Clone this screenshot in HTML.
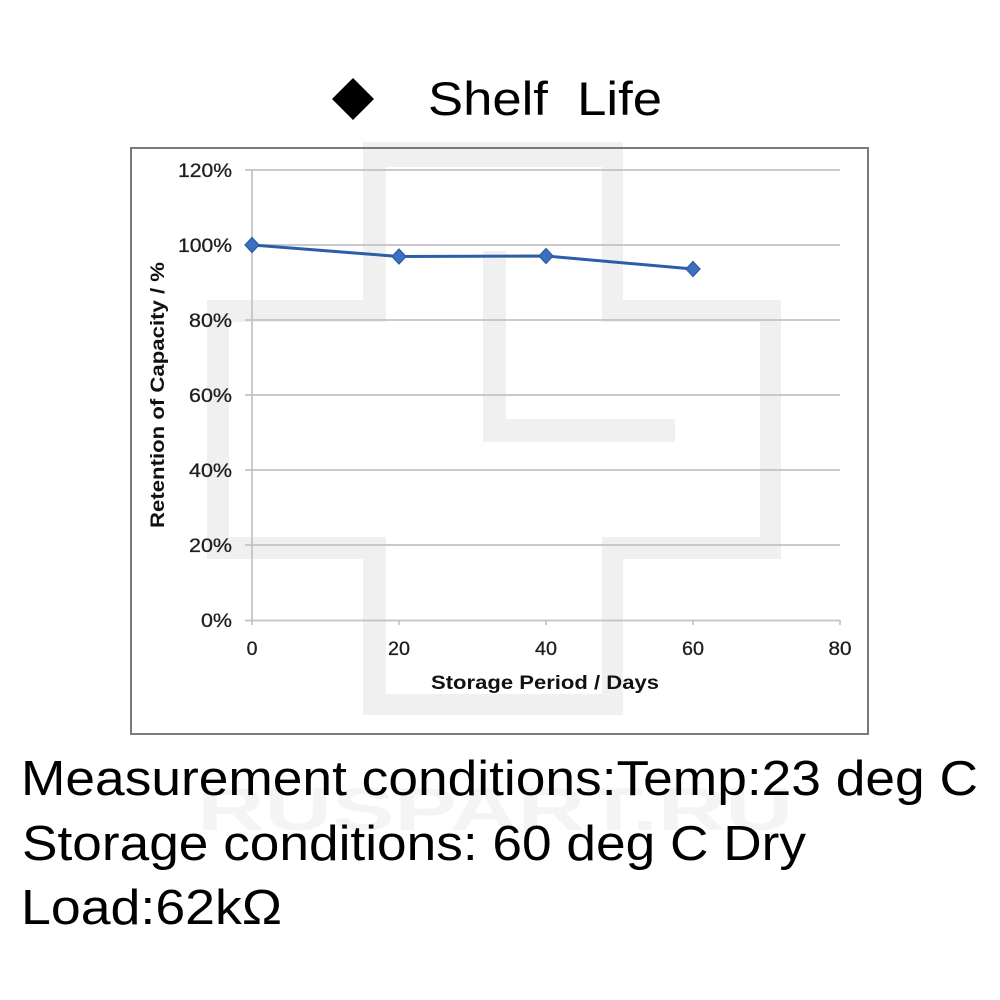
<!DOCTYPE html>
<html>
<head>
<meta charset="utf-8">
<style>
  html, body { margin: 0; padding: 0; background: #ffffff; }
  body { width: 1000px; height: 1000px; overflow: hidden; }
  svg { display: block; }
</style>
</head>
<body>
<svg width="1000" height="1000" viewBox="0 0 1000 1000" xmlns="http://www.w3.org/2000/svg">
  <rect x="0" y="0" width="1000" height="1000" fill="#ffffff"/>

  <!-- Title -->
  <polygon points="353,78 374,99 353,120 332,99" fill="#000000"/>
  <text x="428" y="115" font-family="Liberation Sans, Arial, sans-serif" font-size="47.5" fill="#000" textLength="234" lengthAdjust="spacingAndGlyphs" xml:space="preserve">Shelf  Life</text>

  <!-- Chart background -->
  <rect x="131" y="148" width="737" height="586" fill="#ffffff"/>

  <!-- Watermark (light gray cross outline) -->
  <g fill="#f0f0f0">
    <!-- top arm -->
    <rect x="363" y="142" width="260" height="25"/>
    <rect x="363" y="142" width="23" height="180"/>
    <rect x="602" y="142" width="21" height="180"/>
    <!-- left arm -->
    <rect x="207" y="300" width="179" height="22"/>
    <rect x="207" y="300" width="22" height="259"/>
    <rect x="207" y="537" width="179" height="22"/>
    <!-- bottom arm -->
    <rect x="363" y="537" width="23" height="178"/>
    <rect x="602" y="537" width="21" height="178"/>
    <rect x="363" y="694" width="260" height="21"/>
    <!-- right arm -->
    <rect x="602" y="300" width="179" height="22"/>
    <rect x="760" y="300" width="21" height="259"/>
    <rect x="602" y="537" width="179" height="22"/>
    <!-- inner L -->
    <rect x="483" y="251" width="23" height="191"/>
    <rect x="483" y="419" width="192" height="23"/>
  </g>

  <!-- Chart frame border (on top of watermark) -->
  <rect x="131" y="148" width="737" height="586" fill="none" stroke="#7a7a7a" stroke-width="2"/>

  <!-- Gridlines -->
  <g stroke="#c2c2c2" stroke-width="1.7">
    <line x1="245" y1="170" x2="840" y2="170"/>
    <line x1="245" y1="245" x2="840" y2="245"/>
    <line x1="245" y1="320" x2="840" y2="320"/>
    <line x1="245" y1="395" x2="840" y2="395"/>
    <line x1="245" y1="470" x2="840" y2="470"/>
    <line x1="245" y1="545" x2="840" y2="545"/>
    <line x1="245" y1="620.5" x2="840" y2="620.5"/>
    <!-- y axis -->
    <line x1="252" y1="170" x2="252" y2="625"/>
    <!-- x ticks -->
    <line x1="399" y1="620" x2="399" y2="625"/>
    <line x1="546" y1="620" x2="546" y2="625"/>
    <line x1="693" y1="620" x2="693" y2="625"/>
    <line x1="840" y1="620" x2="840" y2="625"/>
  </g>

  <!-- Y tick labels -->
  <g font-family="Liberation Sans, Arial, sans-serif" font-size="19.5" fill="#1e1e1e" text-anchor="end" stroke="#1e1e1e" stroke-width="0.3">
    <text x="232" y="177" textLength="54" lengthAdjust="spacingAndGlyphs">120%</text>
    <text x="232" y="252" textLength="54" lengthAdjust="spacingAndGlyphs">100%</text>
    <text x="232" y="327" textLength="43" lengthAdjust="spacingAndGlyphs">80%</text>
    <text x="232" y="402" textLength="43" lengthAdjust="spacingAndGlyphs">60%</text>
    <text x="232" y="477" textLength="43" lengthAdjust="spacingAndGlyphs">40%</text>
    <text x="232" y="552" textLength="43" lengthAdjust="spacingAndGlyphs">20%</text>
    <text x="232" y="627" textLength="31" lengthAdjust="spacingAndGlyphs">0%</text>
  </g>

  <!-- X tick labels -->
  <g font-family="Liberation Sans, Arial, sans-serif" font-size="19.5" fill="#1e1e1e" text-anchor="middle" stroke="#1e1e1e" stroke-width="0.3">
    <text x="252" y="655">0</text>
    <text x="399" y="655" textLength="22" lengthAdjust="spacingAndGlyphs">20</text>
    <text x="546" y="655" textLength="22" lengthAdjust="spacingAndGlyphs">40</text>
    <text x="693" y="655" textLength="22" lengthAdjust="spacingAndGlyphs">60</text>
    <text x="840" y="655" textLength="23" lengthAdjust="spacingAndGlyphs">80</text>
  </g>

  <!-- Axis titles -->
  <text x="431" y="689" font-family="Liberation Sans, Arial, sans-serif" font-weight="bold" font-size="19" fill="#111" textLength="228" lengthAdjust="spacingAndGlyphs">Storage Period / Days</text>
  <text transform="translate(164,528) rotate(-90)" x="0" y="0" font-family="Liberation Sans, Arial, sans-serif" font-weight="bold" font-size="19" fill="#111" textLength="266" lengthAdjust="spacingAndGlyphs">Retention of Capacity / %</text>

  <!-- Data series -->
  <polyline points="252,245 399,256.5 546,256 693,269" fill="none" stroke="#2c5ea8" stroke-width="3" stroke-linejoin="round"/>
  <g fill="#3b6fbf" stroke="#2a5aa3" stroke-width="1.2">
    <polygon points="252,237.5 259,245 252,252.5 245,245"/>
    <polygon points="399,249 406,256.5 399,264 392,256.5"/>
    <polygon points="546,248.5 553,256 546,263.5 539,256"/>
    <polygon points="693,261.5 700,269 693,276.5 686,269"/>
  </g>

  <!-- Background watermark text -->
  <text x="197" y="830" font-family="Liberation Sans, Arial, sans-serif" font-weight="bold" font-size="60" fill="#f4f4f4" textLength="596" lengthAdjust="spacingAndGlyphs">RUSPART.RU</text>

  <!-- Conditions text -->
  <g font-family="Liberation Sans, Arial, sans-serif" font-size="49" fill="#000">
    <text x="21" y="795" textLength="957" lengthAdjust="spacingAndGlyphs">Measurement conditions:Temp:23 deg C</text>
    <text x="22" y="860" textLength="784" lengthAdjust="spacingAndGlyphs">Storage conditions: 60 deg C Dry</text>
    <text x="21" y="924" textLength="261" lengthAdjust="spacingAndGlyphs">Load:62kΩ</text>
  </g>
</svg>
</body>
</html>
